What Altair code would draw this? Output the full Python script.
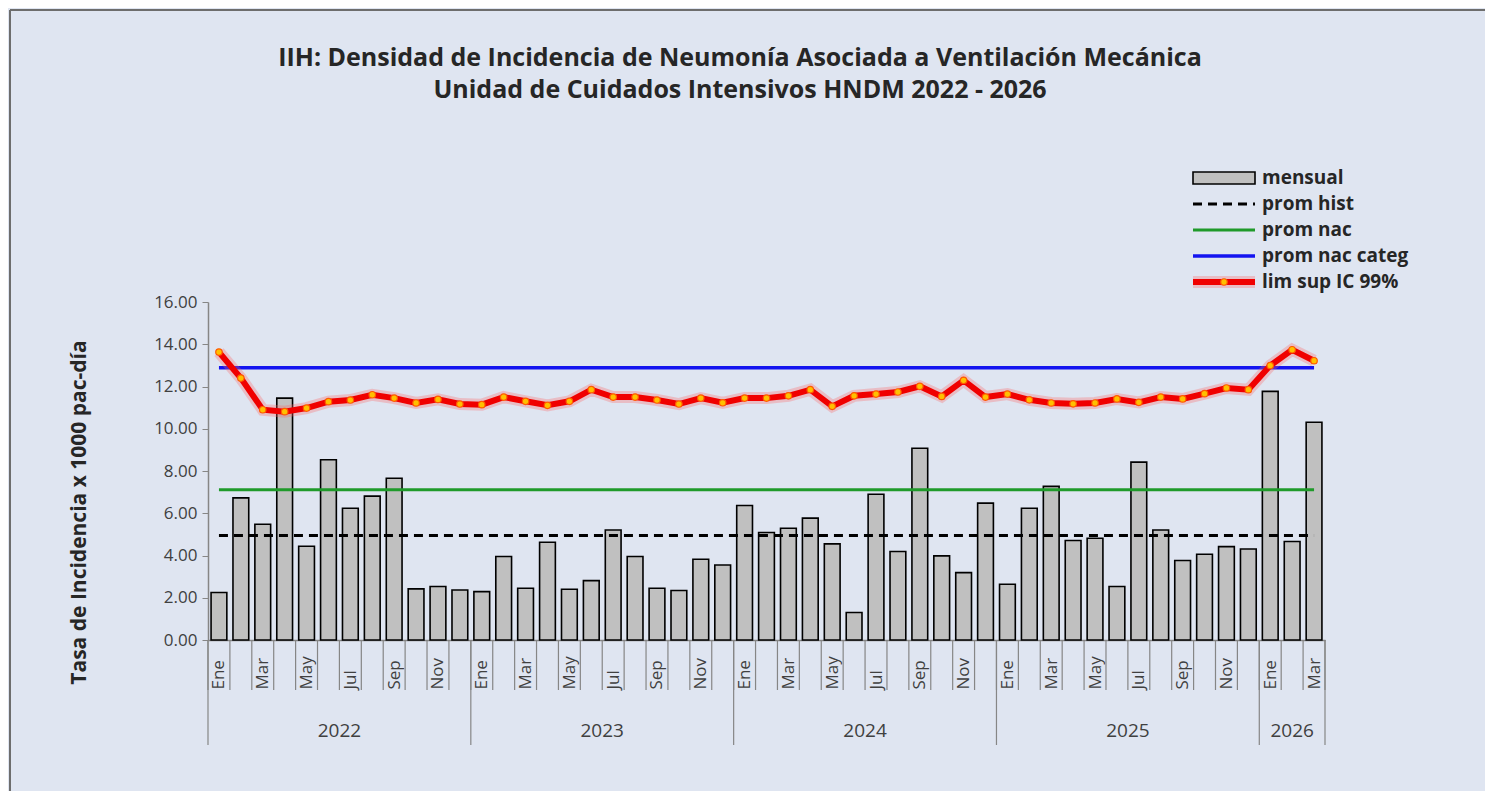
import altair as alt
import pandas as pd

# ---------------- data ----------------
YEARS = [2022] * 12 + [2023] * 12 + [2024] * 12 + [2025] * 12 + [2026] * 3
MONTHS = ['Ene', 'Feb', 'Mar', 'Abr', 'May', 'Jun', 'Jul', 'Ago', 'Sep', 'Oct', 'Nov', 'Dic']
MENSUAL = [2.25, 6.73, 5.48, 11.45, 4.44, 8.53, 6.24, 6.81, 7.66, 2.42, 2.53, 2.37,
           2.29, 3.95, 2.45, 4.63, 2.40, 2.81, 5.21, 3.95, 2.45, 2.34, 3.82, 3.55,
           6.37, 5.09, 5.29, 5.77, 4.55, 1.30, 6.90, 4.19, 9.08, 3.98, 3.19, 6.48,
           2.64, 6.24, 7.27, 4.71, 4.82, 2.53, 8.42, 5.21, 3.76, 4.06, 4.42, 4.31,
           11.77, 4.66, 10.31]
LIM_SUP = [13.63, 12.40, 10.90, 10.81, 10.98, 11.28, 11.36, 11.61, 11.45, 11.22, 11.39, 11.17,
           11.14, 11.50, 11.30, 11.11, 11.30, 11.85, 11.50, 11.50, 11.36, 11.17, 11.45, 11.23,
           11.45, 11.45, 11.56, 11.85, 11.06, 11.56, 11.64, 11.74, 12.01, 11.53, 12.29, 11.50,
           11.64, 11.37, 11.22, 11.18, 11.22, 11.41, 11.25, 11.50, 11.41, 11.66, 11.93, 11.85,
           12.99, 13.74, 13.22]
PROM_HIST = 4.95
PROM_NAC = 7.11
PROM_NAC_CATEG = 12.89
Y_TICKS = [0, 2, 4, 6, 8, 10, 12, 14, 16]
TITLE_1 = "IIH: Densidad de Incidencia de Neumonía Asociada a Ventilación Mecánica"
TITLE_2 = "Unidad de Cuidados Intensivos HNDM 2022 - 2026"
Y_TITLE = "Tasa de Incidencia x 1000 pac-día"
LEGEND = ["mensual", "prom hist", "prom nac", "prom nac categ", "lim sup IC 99%"]

N = len(MENSUAL)
df = pd.DataFrame({
    "idx": list(range(N)),
    "year": YEARS,
    "month": [MONTHS[i % 12] for i in range(N)],
    "mensual": MENSUAL,
    "lim": LIM_SUP,
    "hist": [PROM_HIST] * N,
    "nac": [PROM_NAC] * N,
    "categ": [PROM_NAC_CATEG] * N,
})

bounds = pd.DataFrame({"b": list(range(N + 1))})
year_bounds = [0] + [i for i in range(1, N) if YEARS[i] != YEARS[i - 1]] + [N]
ysep = pd.DataFrame({"b": year_bounds})
years_df = pd.DataFrame({
    "year": [str(YEARS[year_bounds[k]]) for k in range(len(year_bounds) - 1)],
    "mid": [(year_bounds[k] + year_bounds[k + 1]) / 2 for k in range(len(year_bounds) - 1)],
})

# ---------------- layout / style ----------------
W, H = 1117, 338
FONT = "Open Sans"
TXT = "#404040"
AXC = "#868686"
BG = "#dfe5f1"

xscale = alt.Scale(domain=[0, N], nice=False, zero=False)
yscale = alt.Scale(domain=[0, 16], nice=False)

month_arr = "[" + ",".join("'%s'" % m for m in MONTHS) + "]"
xaxis = alt.Axis(
    values=[i + 0.5 for i in range(N) if i % 2 == 0],
    labelExpr=month_arr + "[floor(datum.value) % 12]",
    labelAngle=-90, labelAlign="left", labelBaseline="middle",
    labelPadding=49, labelFontSize=17, labelColor=TXT, labelFont=FONT,
    ticks=False, grid=False, domainColor=AXC, domainWidth=1.5, title=None,
    labelOverlap=False, labelFlush=False,
)
yaxis = alt.Axis(
    values=Y_TICKS, format=".2f", grid=False, tickSize=6, tickColor=AXC,
    domainColor=AXC, domainWidth=1.5, labelFontSize=17, labelColor=TXT,
    labelFont=FONT, labelPadding=5,
    title=Y_TITLE, titleFont=FONT, titleFontSize=21, titleFontWeight="bold",
    titleColor="#262626", titleX=-129, titleY=210, titleBaseline="middle",
    titleAngle=-90,
)

base = alt.Chart(df)

bars = base.transform_calculate(
    x0="datum.idx + 0.14", x1="datum.idx + 0.86"
).mark_bar(fill="#c0c0c0", stroke="#000000", strokeWidth=1.6).encode(
    x=alt.X("x0:Q", scale=xscale, axis=xaxis),
    x2="x1:Q",
    y=alt.Y("mensual:Q", scale=yscale, axis=yaxis),
    y2=alt.datum(0),
)

lines_base = base.transform_calculate(xc="datum.idx + 0.5")
hist = lines_base.mark_line(color="#000000", strokeWidth=3, strokeDash=[9, 6]).encode(
    x=alt.X("xc:Q", scale=xscale), y=alt.Y("hist:Q", scale=yscale))
nac = lines_base.mark_line(color="#1f9a2a", strokeWidth=3).encode(
    x=alt.X("xc:Q", scale=xscale), y=alt.Y("nac:Q", scale=yscale))
categ = lines_base.mark_line(color="#1414f0", strokeWidth=3.5).encode(
    x=alt.X("xc:Q", scale=xscale), y=alt.Y("categ:Q", scale=yscale))
glow = lines_base.mark_line(color="#ff6060", strokeWidth=12, opacity=0.3).encode(
    x=alt.X("xc:Q", scale=xscale), y=alt.Y("lim:Q", scale=yscale))
red = lines_base.mark_line(color="#f00000", strokeWidth=6).encode(
    x=alt.X("xc:Q", scale=xscale), y=alt.Y("lim:Q", scale=yscale))
pts = lines_base.mark_point(shape="circle", filled=True, fill="#ffc000", stroke="#ff5a00",
                            strokeWidth=1.2, size=42, opacity=1).encode(
    x=alt.X("xc:Q", scale=xscale), y=alt.Y("lim:Q", scale=yscale))

# category ticks and year separators below the axis
mticks = alt.Chart(bounds).mark_rule(color=AXC, strokeWidth=1.2).encode(
    x=alt.X("b:Q", scale=xscale), y=alt.value(H), y2=alt.value(H + 50))
yticks = alt.Chart(ysep).mark_rule(color=AXC, strokeWidth=1.2).encode(
    x=alt.X("b:Q", scale=xscale), y=alt.value(H), y2=alt.value(H + 105))
ylabels = alt.Chart(years_df).mark_text(fontSize=19, font=FONT, color=TXT, baseline="middle").encode(
    x=alt.X("mid:Q", scale=xscale), y=alt.value(H + 91), text="year:N")

one = alt.Data(values=[{}])

def txt(s, x, y, size, weight="bold", color="#262626", align="left"):
    return alt.Chart(one).mark_text(text=s, fontSize=size, fontWeight=weight, font=FONT,
                                    color=color, align=align, baseline="middle").encode(
        x=alt.value(x), y=alt.value(y))

title1 = txt(TITLE_1, 532, -244, 25, align="center")
title2 = txt(TITLE_2, 532, -212, 25, align="center")

# legend
LX0, LX1, LT = 985, 1047, 1054
LY = [-124, -98, -72, -46, -20]
leg = [
    alt.Chart(one).mark_rect(fill="#c0c0c0", stroke="#000000", strokeWidth=1.6).encode(
        x=alt.value(LX0), x2=alt.value(LX1), y=alt.value(LY[0] - 6), y2=alt.value(LY[0] + 6)),
    alt.Chart(one).mark_rule(color="#000000", strokeWidth=3, strokeDash=[9, 6]).encode(
        x=alt.value(LX0), x2=alt.value(LX1), y=alt.value(LY[1])),
    alt.Chart(one).mark_rule(color="#1f9a2a", strokeWidth=3).encode(
        x=alt.value(LX0), x2=alt.value(LX1), y=alt.value(LY[2])),
    alt.Chart(one).mark_rule(color="#1414f0", strokeWidth=3.5).encode(
        x=alt.value(LX0), x2=alt.value(LX1), y=alt.value(LY[3])),
    alt.Chart(one).mark_rule(color="#ff6060", strokeWidth=12, opacity=0.3).encode(
        x=alt.value(LX0), x2=alt.value(LX1), y=alt.value(LY[4])),
    alt.Chart(one).mark_rule(color="#f00000", strokeWidth=6).encode(
        x=alt.value(LX0), x2=alt.value(LX1), y=alt.value(LY[4])),
    alt.Chart(one).mark_point(shape="circle", filled=True, fill="#ffc000", stroke="#ff5a00",
                              strokeWidth=1.2, size=42, opacity=1).encode(
        x=alt.value((LX0 + LX1) / 2), y=alt.value(LY[4])),
]
leg_txt = [txt(LEGEND[i], LT, LY[i], 19) for i in range(5)]

# outer frame (left and top edges)
frame_l = alt.Chart(one).mark_rule(color="#6d6d6d", strokeWidth=2).encode(
    x=alt.value(-198), y=alt.value(-292), y2=alt.value(H + 160))
frame_t = alt.Chart(one).mark_rule(color="#6d6d6d", strokeWidth=2).encode(
    x=alt.value(-198), x2=alt.value(W + 170), y=alt.value(-292))

chart = alt.layer(
    frame_l, frame_t, bars, hist, nac, categ, glow, red, pts,
    mticks, yticks, ylabels, title1, title2, *leg, *leg_txt
).properties(
    width=W, height=H,
    autosize=alt.AutoSizeParams(type="none"),
    padding={"left": 200, "top": 294, "right": 160, "bottom": 151},
    background=BG,
).configure_view(stroke=None)

chart.save("out.html", embed_options={"renderer": "svg", "actions": False})
